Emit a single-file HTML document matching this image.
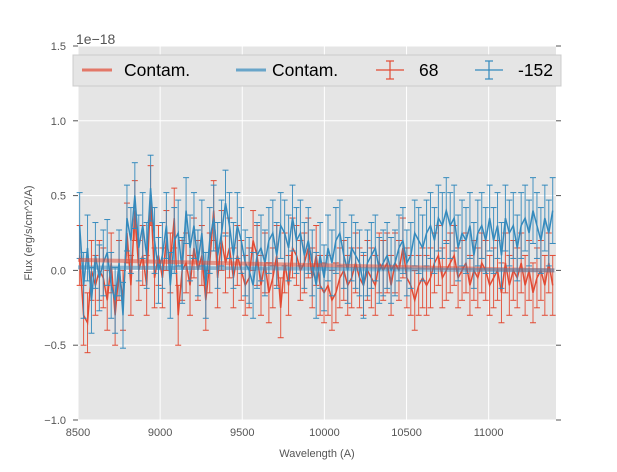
<!DOCTYPE html>
<html><head><meta charset="utf-8"><style>
body{margin:0;background:#fff;font-family:"Liberation Sans",sans-serif}
svg text{font-family:"Liberation Sans",sans-serif}
</style></head><body>
<svg id="c" width="617" height="467">
<rect x="78" y="46" width="478" height="374" fill="#e5e5e5"/>
<g id="grid"></g><g id="series"></g><g id="axes"></g>
<text x="76" y="44" font-size="14" fill="#555">1e−18</text>
<text x="317" y="457" font-size="11" fill="#555" text-anchor="middle">Wavelength (A)</text>
<text transform="translate(32,233) rotate(-90)" font-size="11" fill="#555" text-anchor="middle">Flux (erg/s/cm^2/A)</text>
<g>
<rect x="73" y="55" width="488" height="31" fill="#e5e5e5" stroke="#ccc" stroke-width="1"/>
<line x1="82" y1="70" x2="112" y2="70" stroke="#E24A33" stroke-opacity="0.7" stroke-width="3"/>
<text x="124" y="76" font-size="17.5">Contam.</text>
<line x1="236" y1="70" x2="266" y2="70" stroke="#348ABD" stroke-opacity="0.7" stroke-width="3"/>
<text x="272" y="76" font-size="17.5">Contam.</text>
<g stroke="#E24A33" stroke-width="1.2"><line x1="376" y1="70" x2="404" y2="70"/><line x1="390" y1="61" x2="390" y2="79"/><line x1="386" y1="61" x2="394" y2="61"/><line x1="386" y1="79" x2="394" y2="79"/></g>
<text x="419" y="76" font-size="17.5">68</text>
<g stroke="#348ABD" stroke-width="1.2"><line x1="475" y1="70" x2="503" y2="70"/><line x1="489" y1="61" x2="489" y2="79"/><line x1="485" y1="61" x2="493" y2="61"/><line x1="485" y1="79" x2="493" y2="79"/></g>
<text x="518" y="76" font-size="17.5">-152</text>
</g>
</svg>
<script>
const xTicks=[8500,9000,9500,10000,10500,11000];
const xTickLabels=["8500","9000","9500","10000","10500","11000"];
const yTicks=[-1.0,-0.5,0.0,0.5,1.0,1.5];
const yTickLabels=["−1.0","−0.5","0.0","0.5","1.0","1.5"];
const wlStart=8510, wlStep=24;
const blueFlux=[0.3,-0.1,0.15,-0.2,0.1,-0.05,0.05,0.12,-0.1,-0.2,0.05,-0.3,0.35,0.2,0.5,0.15,0.3,0.1,0.55,0.2,0.0,
0.1,0.3,-0.1,0.2,0.25,0.0,0.4,0.15,0.3,0.05,0.25,-0.1,0.2,0.35,0.1,0.25,0.45,0.3,0.1,0.3,0.2,
0.05,0.0,-0.1,0.1,0.15,0.05,0.2,0.25,0.1,0.3,0.25,0.15,0.35,0.2,0.25,0.1,0.2,0.05,-0.1,0.1,-0.05,
0.15,0.05,0.2,0.25,0.1,0.0,0.15,0.1,0.05,-0.1,0.05,0.1,0.15,0.0,0.05,0.1,0.0,0.05,0.15,0.2,0.05,
0.1,0.25,0.2,0.15,0.25,0.3,0.2,0.35,0.3,0.4,0.3,0.35,0.15,0.25,0.2,0.3,0.1,0.25,0.3,0.2,0.35,
0.2,0.3,0.1,0.35,0.25,0.3,0.15,0.3,0.35,0.25,0.4,0.3,0.2,0.35,0.25,0.4,0.35];
const redFlux=[0.1,-0.3,-0.35,0.0,-0.1,0.0,-0.05,-0.2,0.05,-0.3,0.0,-0.2,0.25,-0.1,0.4,0.0,0.1,-0.1,0.5,-0.05,0.1,
-0.05,0.2,0.05,0.35,-0.3,0.0,0.05,-0.1,0.15,0.0,0.1,-0.2,0.05,0.4,-0.05,0.2,0.05,0.15,-0.05,0.1,0.0,
-0.1,-0.05,0.2,0.1,-0.1,0.05,-0.15,-0.05,0.1,-0.25,0.05,-0.1,0.15,0.1,0.0,0.05,0.15,-0.05,0.1,-0.1,-0.15,
-0.1,-0.2,-0.15,-0.05,0.0,-0.1,-0.05,0.05,-0.05,-0.1,0.0,-0.05,-0.1,0.05,0.0,0.05,-0.1,0.05,0.0,0.15,-0.05,
-0.1,-0.2,-0.1,-0.05,-0.1,-0.05,0.05,0.1,-0.05,0.0,0.05,0.1,-0.05,0.0,0.05,-0.1,0.0,-0.05,0.05,0.0,-0.1,
-0.05,0.0,-0.15,0.05,-0.1,0.0,-0.05,0.05,-0.1,0.0,-0.15,-0.05,0.0,-0.1,0.05,-0.1,-0.15];
const blueErr=0.22, redErr=0.2;
const contamRed=[0.07,0.0], contamBlue=[0.02,0.0];
const contamWl=[8500,11400];
const X0=78,X1=556,Y0=420,Y1=46,xmin=8500,xmax=11410,ymin=-1,ymax=1.5;
const sx=v=>X0+(v-xmin)/(xmax-xmin)*(X1-X0);
const sy=v=>Y0-(v-ymin)/(ymax-ymin)*(Y0-Y1);
const NS="http://www.w3.org/2000/svg";
function mk(t,a,p){const e=document.createElementNS(NS,t);for(const k in a)e.setAttribute(k,a[k]);p.appendChild(e);return e;}
const grid=document.getElementById('grid'),axes=document.getElementById('axes'),ser=document.getElementById('series');
xTicks.forEach((t,i)=>{const x=sx(t);
const g=mk('line',{x1:x,x2:x,y1:Y1,y2:Y0,stroke:'#fff','stroke-width':1},grid);


const tk=mk('text',{x:x,y:Y0+16,'font-size':11,fill:'#555','text-anchor':'middle'},axes);tk.textContent=xTickLabels[i];


});
yTicks.forEach((t,i)=>{const y=sy(t);
const g=mk('line',{x1:X0,x2:X1,y1:y,y2:y,stroke:'#fff','stroke-width':1},grid);


mk('line',{x1:X0-5,x2:X0,y1:y,y2:y,stroke:'#555'},axes);
mk('line',{x1:X1,x2:X1+5,y1:y,y2:y,stroke:'#555'},axes);
const tk=mk('text',{x:X0-12,y:y+4,'font-size':11,fill:'#555','text-anchor':'end'},axes);tk.textContent=yTickLabels[i];


});
function series(vals,err,col,name){
const g=mk('g',{},ser);


let d='';
vals.forEach((v,i)=>{const x=sx(wlStart+i*wlStep);if(x>X1)return;
const a=sy(v+err),b=sy(v-err);
mk('line',{x1:x,x2:x,y1:a,y2:b,stroke:col,'stroke-width':1,'stroke-opacity':0.9},g);
mk('line',{x1:x-3,x2:x+3,y1:a,y2:a,stroke:col,'stroke-width':1},g);
mk('line',{x1:x-3,x2:x+3,y1:b,y2:b,stroke:col,'stroke-width':1},g);
d+=(d?'L':'M')+x+','+sy(v);});
mk('path',{d:d,fill:'none',stroke:col,'stroke-width':1.5},g);
}
series(redFlux,redErr,'#E24A33','series-68');
series(blueFlux,blueErr,'#348ABD','series-minus152');
[[contamRed,'#E24A33','contam-red-line'],[contamBlue,'#348ABD','contam-blue-line']].forEach(([c,col,n])=>{
const l=mk('line',{x1:sx(contamWl[0]),x2:sx(contamWl[1]),y1:sy(c[0]),y2:sy(c[1]),stroke:col,'stroke-width':4,'stroke-opacity':0.5},ser);


});
</script>
</body></html>
